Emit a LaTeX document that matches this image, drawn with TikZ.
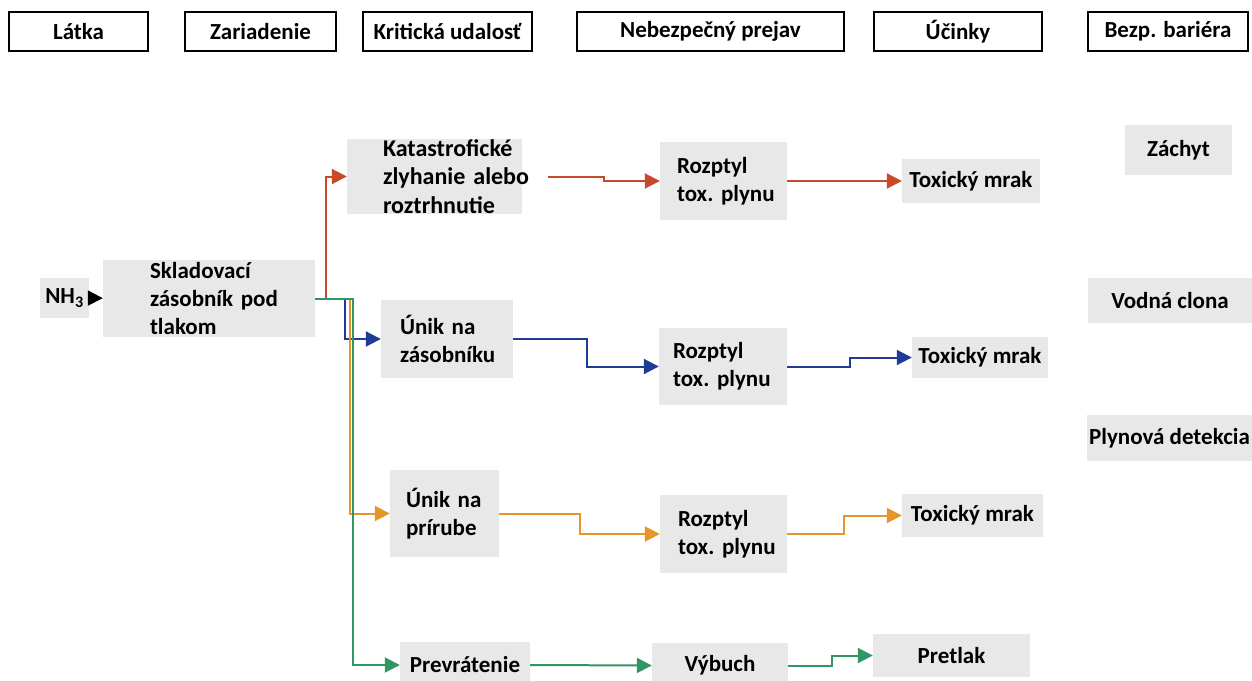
\documentclass[tikz,border=0pt]{standalone}
\usepackage{fontspec}
\setmainfont{Carlito}
\usetikzlibrary{arrows.meta, % for triangle tips
                positioning}
\definecolor{boxgray}{RGB}{232,232,232}
\definecolor{flowred}{RGB}{200,72,42}
\definecolor{flowblue}{RGB}{30,60,150}
\definecolor{floworange}{RGB}{230,150,40}
\definecolor{flowgreen}{RGB}{50,150,100}

\begin{document}
\begin{tikzpicture}[x=1pt, y=-1pt,
                    every node/.style={font=\fontsize{23}{28}\selectfont\bfseries},
                    hdr/.style={draw, line width=2pt, fill=white, minimum height=39, inner sep=0},
                    box/.style={fill=boxgray, inner ysep=0, inner xsep=0, align=center},
                    boxL/.style={fill=boxgray, inner ysep=0, align=left},
                    flow/.style={line width=2pt, -{Triangle[length=15pt, width=15pt]}},
                    flow_red/.style={flow, flowred},
                    flow_blue/.style={flow, flowblue},
                    flow_orange/.style={flow, floworange},
                    flow_green/.style={flow, flowgreen}
                    ]
    \fill[white] (0,0) rectangle (1252,680);
    \useasboundingbox (0,0) rectangle (1252,680);

    %header nodes
    \node[hdr, minimum width=139] at (78.5,31.5)  (latka){Látka};
    \node[hdr, minimum width=151] at (260.5,31.5) (zar){Zariadenie};
    \node[hdr, minimum width=169] at (447.5,31.5) (krit){Kritická udalosť};
    \node[hdr, minimum width=267] at (710.5,31.5) (neb){Nebezpečný prejav};
    \node[hdr, minimum width=168] at (958,31.5)   (ucin){Účinky};
    \node[hdr, minimum width=160] at (1168,31.5)  (bezp){Bezp. bariéra};

    %substance and equipment
    \node[box, minimum width=49, minimum height=40] at (64.5,298) (nh3){NH\textsubscript{3}};
    \node[boxL, minimum height=77, inner xsep=47, text width=118] at (209,298.5) (sklad)
        {Skladovací\\zásobník~pod\\tlakom};

    %critical events
    \node[boxL, minimum height=73, inner xsep=36, text width=103,
          font=\fontsize{24}{28.5}\selectfont\bfseries] at (434.5,176.5) (kat)
        {Katastrofické\\zlyhanie~alebo\\roztrhnutie};
    \node[boxL, minimum height=78, inner xsep=19, text width=94] at (447,339) (zas)
        {Únik~na\\zásobníku};
    \node[boxL, minimum height=87, inner xsep=16, text width=77] at (444.5,513.5) (pri)
        {Únik~na\\prírube};
    \node[box, minimum width=130, minimum height=46] at (465,665) (prev){Prevrátenie};

    %dangerous phenomena
    \node[boxL, minimum height=78, inner xsep=17, text width=93] at (723.5,181) (roz1)
        {Rozptyl\\tox.~plynu};
    \node[boxL, minimum height=77, inner xsep=14, text width=100] at (723,366.5) (roz2)
        {Rozptyl\\tox.~plynu};
    \node[boxL, minimum height=78, inner xsep=18, text width=91] at (723.5,534) (roz3)
        {Rozptyl\\tox.~plynu};
    \node[box, minimum width=136, minimum height=45] at (720,665.5) (vyb){Výbuch};

    %effects
    \node[box, minimum width=138, minimum height=44] at (971,181)    (tox1){Toxický mrak};
    \node[box, minimum width=136, minimum height=41] at (980,357.5)  (tox2){Toxický mrak};
    \node[box, minimum width=141, minimum height=43] at (972.5,515.5) (tox3){Toxický mrak};
    \node[box, minimum width=157, minimum height=43] at (951.5,655.5) (pret){Pretlak};

    %safety barriers
    \node[box, minimum width=107, minimum height=50] at (1178.5,150) (zach){Záchyt};
    \node[box, minimum width=164, minimum height=45] at (1170,300.5) (vod){Vodná clona};
    \node[box, minimum width=165, minimum height=46] at (1169.5,438) (plyn){Plynová detekcia};

    \draw[line width=2pt, -{Triangle[length=15pt, width=15pt]}] (nh3) -- (sklad);

    %branches from the tank
    \draw[flow_red]    (sklad.east) -- ++(11,0) |- (kat.west);
    \draw[flow_blue]   (sklad.east) -- ++(30,0) |- (zas.west);
    \draw[flow_orange] (sklad.east) -- ++(35,0) |- (pri.west);
    \draw[flow_green]  (sklad.east) -- ++(38,0) |- (prev.west);

    \draw[flow_red]    ([xshift=26]kat.east) -- ++(56,0) |- (roz1.west);
    \draw[flow_red]    (roz1.east) -- (tox1.west);
    \draw[flow_blue]   (zas.east)  -- ++(74,0) |- (roz2.west);
    \draw[flow_blue]   (roz2.east) -- ++(63,0) |- (tox2.west);
    \draw[flow_orange] (pri.east)  -- ++(81,0) |- (roz3.west);
    \draw[flow_orange] (roz3.east) -- ++(57,0) |- (tox3.west);
    \draw[flow_green]  (prev.east) -- (vyb.west);
    \draw[flow_green]  (vyb.east)  -- ++(44,0) |- (pret.west);

\end{tikzpicture}
\end{document}
